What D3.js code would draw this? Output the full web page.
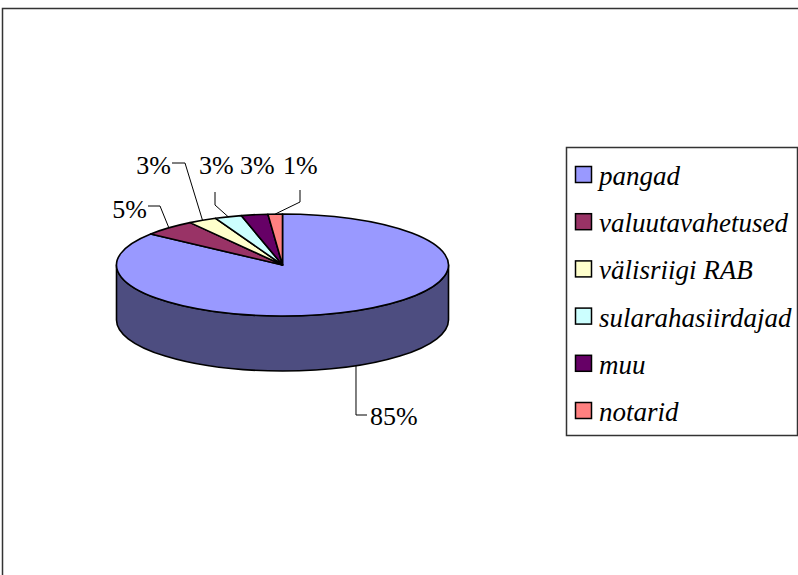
<!DOCTYPE html>
<html><head><meta charset="utf-8"><script src="https://cdn.jsdelivr.net/npm/d3@7"></script></head>
<body style="margin:0">
<script>
// ---- data ----
const categories = ["pangad", "valuutavahetused", "välisriigi RAB", "sularahasiirdajad", "muu", "notarid"];
const values = [85.4, 5.2, 2.8, 2.6, 2.6, 1.4];
const labels = ["85%", "5%", "3%", "3%", "3%", "1%"];
const topColors = ["#9999FF", "#993366", "#FFFFCC", "#CCFFFF", "#660066", "#FF8080"];
const sideColors = ["#4D4D80", "#4D1A33", "#808066", "#668080", "#330033", "#804040"];

// ---- layout ----
const W = 798, H = 575;
const cx = 282.5, cy = 265, rx = 166, ry = 51, depth = 55;

const svg = d3.select("body").append("svg").attr("width", W).attr("height", H).style("display", "block");

// outer frame (right and bottom edges fall outside the picture)
svg.append("rect").attr("x", 2.5).attr("y", 8.5).attr("width", W + 10).attr("height", H + 10)
  .attr("fill", "none").attr("stroke", "#333").attr("stroke-width", 1.5);

const topColor = d3.scaleOrdinal().domain(categories).range(topColors);
const sideColor = d3.scaleOrdinal().domain(categories).range(sideColors);

const pie = d3.pie().sort(null).value(d => d.v);
const arcs = pie(categories.map((c, i) => ({ c, v: values[i], label: labels[i] })));

function pt(a, dy = 0) { return [cx + rx * Math.sin(a), cy - ry * Math.cos(a) + dy]; }

function topPath(d) {
  const p0 = pt(d.startAngle), p1 = pt(d.endAngle);
  const large = (d.endAngle - d.startAngle) > Math.PI ? 1 : 0;
  return `M${cx},${cy}L${p0[0]},${p0[1]}A${rx},${ry} 0 ${large} 1 ${p1[0]},${p1[1]}Z`;
}
function sidePath(d) {
  const s0 = Math.max(d.startAngle, Math.PI / 2), s1 = Math.min(d.endAngle, 3 * Math.PI / 2);
  if (s0 >= s1) return null;
  const a = pt(s0), b = pt(s1), bb = pt(s1, depth), ab = pt(s0, depth);
  return `M${a[0]},${a[1]}A${rx},${ry} 0 0 1 ${b[0]},${b[1]}L${bb[0]},${bb[1]}A${rx},${ry} 0 0 0 ${ab[0]},${ab[1]}Z`;
}

const g = svg.append("g");
g.selectAll("path.side").data(arcs.filter(d => sidePath(d))).join("path")
  .attr("class", "side").attr("d", sidePath)
  .attr("fill", d => sideColor(d.data.c)).attr("stroke", "#000").attr("stroke-width", 1.6)
  .attr("stroke-linejoin", "round");
g.selectAll("path.top").data(arcs).join("path")
  .attr("class", "top").attr("d", topPath)
  .attr("fill", d => topColor(d.data.c)).attr("stroke", "#000").attr("stroke-width", 1.6)
  .attr("stroke-linejoin", "round");

// ---- data labels with leader lines (label placement, Excel-like) ----
const labelLayout = [
  { x: 370, y: 425, anchor: "start", elbow: d => { const s = pt((d.startAngle + d.endAngle) / 2, depth); return [[s[0], s[1]], [s[0], 415], [367, 415]]; } },
  { x: 147, y: 218, anchor: "end", elbow: d => { const s = pt((d.startAngle + d.endAngle) / 2); return [[148, 206], [160, 206], s]; } },
  { x: 171, y: 174, anchor: "end", elbow: d => { const s = pt((d.startAngle + d.endAngle) / 2); return [[172, 163], [185, 163], s]; } },
  { x: 199, y: 174, anchor: "start", elbow: d => { const s = pt((d.startAngle + d.endAngle) / 2); return [[215, 192], [215, 205], s]; } },
  { x: 240, y: 174, anchor: "start", elbow: null },
  { x: 283, y: 174, anchor: "start", elbow: d => { const s = pt((d.startAngle + d.endAngle) / 2); return [[300, 190], [300, 202], s]; } }
];

const line = d3.line();
arcs.forEach((d, i) => {
  const L = labelLayout[i];
  if (L.elbow) {
    svg.append("path").attr("d", line(L.elbow(d))).attr("fill", "none")
      .attr("stroke", "#000").attr("stroke-width", 1);
  }
  svg.append("text").attr("x", L.x).attr("y", L.y).attr("text-anchor", L.anchor)
    .attr("font-size", 26).style("font-family", `"Liberation Serif", monospace`)
    .attr("fill", "#000").text(d.data.label);
});

// ---- legend ----
const leg = svg.append("g");
leg.append("rect").attr("x", 566.5).attr("y", 147.5).attr("width", 231).attr("height", 288)
  .attr("fill", "#fff").attr("stroke", "#333").attr("stroke-width", 1.5);
const rowY = d3.scalePoint().domain(categories).range([185, 421]);
const items = leg.selectAll("g.item").data(categories).join("g").attr("class", "item")
  .attr("transform", c => `translate(0,${rowY(c)})`);
items.append("rect").attr("x", 575.5).attr("y", -18.5).attr("width", 16).attr("height", 16)
  .attr("fill", c => topColor(c)).attr("stroke", "#000").attr("stroke-width", 1.5);
items.append("text").attr("x", 599).attr("y", 0).attr("font-size", 27)
  .style("font-family", `"Liberation Serif", monospace`)
  .attr("font-style", "italic").attr("fill", "#000").text(c => c);
</script>
</body>
</html>
